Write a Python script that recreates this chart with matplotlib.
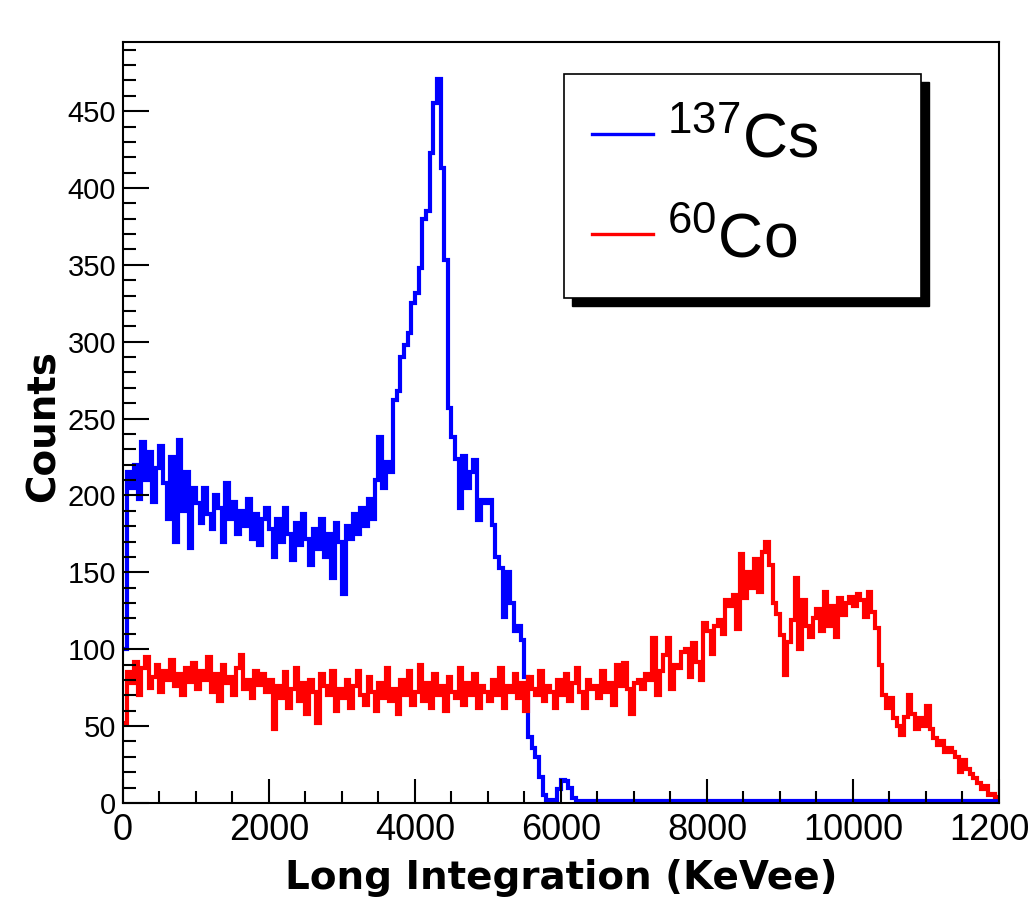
import numpy as np
import matplotlib
matplotlib.use("Agg")
import matplotlib.pyplot as plt
from matplotlib.patches import Rectangle
from matplotlib.ticker import MultipleLocator

plt.rcParams['font.family'] = ['Liberation Sans', 'DejaVu Sans']
plt.rcParams['mathtext.fontset'] = 'custom'
plt.rcParams['mathtext.rm'] = 'Liberation Sans'
plt.rcParams['mathtext.it'] = 'Liberation Sans:italic'
plt.rcParams['mathtext.bf'] = 'Liberation Sans:bold'

# Histogram binning (KeVee)
bin_width = 50
x_max = 12000

# 137Cs counts per bin, 20 bins per row (1000 KeVee per row)
cs_counts = [
    100, 215, 205, 220, 198, 235, 210, 228, 196, 218, 232, 208, 185, 225, 170, 236, 190, 215, 166, 205,
    195, 182, 205, 188, 178, 200, 192, 170, 208, 185, 196, 175, 190, 180, 198, 172, 188, 168, 185, 192,
    178, 160, 185, 170, 192, 175, 158, 182, 168, 188, 172, 155, 178, 165, 185, 160, 175, 146, 182, 170,
    136, 180, 172, 188, 175, 192, 180, 198, 185, 210, 238, 205, 222, 215, 262, 268, 290, 298, 306, 325,
    332, 348, 380, 385, 423, 455, 471, 413, 353, 257, 238, 224, 192, 226, 205, 215, 223, 184, 197, 195,
    197, 181, 160, 153, 121, 150, 130, 112, 115, 106, 82, 43, 36, 30, 17, 5, 2, 1, 2, 9,
    15, 14, 10, 3, 1, 1, 1, 1, 1, 1, 1, 1, 1, 1, 1, 1, 1, 1, 1, 1,
    1, 1, 1, 1, 1, 1, 1, 1, 1, 1, 1, 1, 1, 1, 1, 1, 1, 1, 1, 1,
    1, 1, 1, 1, 1, 1, 1, 1, 1, 1, 1, 1, 1, 1, 1, 1, 1, 1, 1, 1,
    1, 1, 1, 1, 1, 1, 1, 1, 1, 1, 1, 1, 1, 1, 1, 1, 1, 1, 1, 1,
    1, 1, 1, 1, 1, 1, 1, 1, 1, 1, 1, 1, 1, 1, 1, 1, 1, 1, 1, 1,
    1, 1, 1, 1, 1, 1, 1, 1, 1, 1, 1, 1, 1, 1, 1, 1, 1, 1, 1, 1,
]

# 60Co counts per bin
co_counts = [
    52, 85, 78, 92, 70, 88, 95, 75, 82, 90, 72, 86, 80, 93, 76, 84, 70, 88, 79, 91,
    74, 86, 80, 95, 72, 84, 66, 90, 78, 82, 70, 88, 96, 74, 80, 68, 86, 77, 84, 72,
    80, 48, 76, 68, 85, 62, 74, 88, 66, 78, 58, 80, 72, 52, 84, 76, 70, 86, 60, 74,
    68, 80, 62, 76, 86, 70, 64, 82, 72, 60, 78, 68, 88, 66, 74, 58, 80, 70, 86, 64,
    72, 90, 66, 78, 62, 84, 70, 76, 60, 82, 72, 68, 88, 64, 78, 70, 84, 62, 76, 72,
    66, 80, 70, 88, 62, 76, 72, 84, 68, 78, 60, 82, 74, 70, 86, 66, 76, 72, 62, 80,
    70, 84, 66, 78, 88, 72, 62, 80, 74, 76, 68, 86, 72, 78, 64, 90, 76, 91, 74, 58,
    78, 80, 74, 84, 80, 107, 70, 86, 96, 107, 74, 90, 88, 98, 100, 82, 104, 92, 80, 117,
    112, 97, 115, 119, 110, 132, 128, 135, 113, 162, 133, 150, 140, 159, 137, 163, 170, 155, 130, 123,
    109, 83, 105, 119, 146, 100, 132, 115, 108, 120, 126, 112, 137, 115, 128, 108, 133, 122, 130, 134,
    128, 136, 132, 121, 137, 124, 114, 90, 70, 62, 68, 55, 50, 44, 56, 70, 58, 48, 55, 50,
    63, 48, 42, 38, 40, 33, 36, 33, 30, 20, 28, 22, 19, 16, 13, 9, 11, 5, 6, 4,
]

series_names = [r'$^{137}\mathrm{Cs}$', r'$^{60}\mathrm{Co}$']
series_colors = ['#0000ff', '#ff0000']

edges = np.arange(0, x_max + bin_width, bin_width)

fig = plt.figure(figsize=(10.30, 9.02), dpi=100)
ax = fig.add_axes([0.1194, 0.1098, 0.8505, 0.8437])

ax.stairs(cs_counts, edges, baseline=None, color=series_colors[0], linewidth=3.0)
ax.stairs(co_counts, edges, baseline=None, color=series_colors[1], linewidth=3.0)

ax.set_xlim(0, x_max)
ax.set_ylim(0, 495)

# ROOT-like axis style: ticks inside, only on left/bottom
ax.xaxis.set_major_locator(MultipleLocator(2000))
ax.xaxis.set_minor_locator(MultipleLocator(500))
ax.yaxis.set_major_locator(MultipleLocator(50))
ax.yaxis.set_minor_locator(MultipleLocator(10))
ax.tick_params(axis='x', which='major', direction='in', length=17, width=1.5, labelsize=26, pad=7)
ax.tick_params(axis='x', which='minor', direction='in', length=9, width=1.5)
ax.tick_params(axis='y', which='major', direction='in', length=19, width=1.5, labelsize=21, pad=5)
ax.tick_params(axis='y', which='minor', direction='in', length=9.5, width=1.5)
for sp in ax.spines.values():
    sp.set_linewidth(1.5)

title_font = dict(fontsize=28, fontweight='bold', family='DejaVu Sans')
ax.set_xlabel('Long Integration (KeVee)', va='baseline', **title_font)
ax.xaxis.set_label_coords(0.5, -0.113)
ax.set_ylabel('Counts', va='baseline', ha='center', rotation_mode='anchor', **title_font)
ax.yaxis.set_label_coords(-0.0786, 0.4954)

# legend box with drop shadow
lx0, lx1, ly0, ly1 = 0.5034, 0.9110, 0.6636, 0.9580
ax.add_patch(Rectangle((lx0 + 0.0091, ly0 - 0.0105), lx1 - lx0, ly1 - ly0, transform=ax.transAxes,
                       facecolor='black', edgecolor='black', zorder=5, clip_on=False))
ax.add_patch(Rectangle((lx0, ly0), lx1 - lx0, ly1 - ly0, transform=ax.transAxes,
                       facecolor='white', edgecolor='black', linewidth=1.2, zorder=6, clip_on=False))
line_y = [0.8791, 0.7477]
text_y = [0.8489, 0.7175]
for name, color, yl, yt in zip(series_names, series_colors, line_y, text_y):
    ax.plot([0.5354, 0.6050], [yl, yl], transform=ax.transAxes, color=color, linewidth=2.4,
            zorder=7, clip_on=False)
    ax.text(0.6210, yt, name, transform=ax.transAxes, fontsize=45, va='baseline', ha='left', zorder=7)

fig.savefig('out.png', dpi=100)
